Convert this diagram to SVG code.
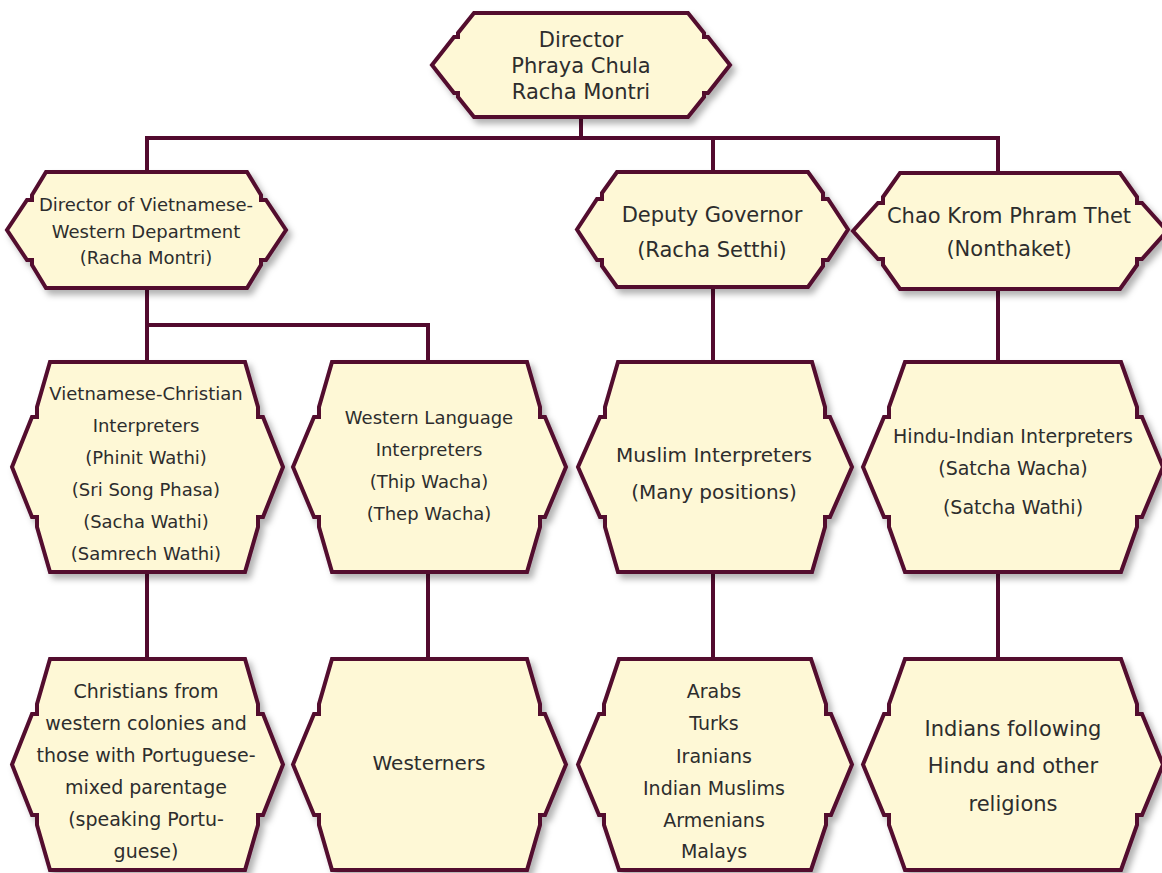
<svg xmlns="http://www.w3.org/2000/svg" width="1162" height="873" viewBox="0 0 1162 873">
<defs>
<filter id="sh" x="-10%" y="-10%" width="130%" height="130%">
<feDropShadow dx="4" dy="5" stdDeviation="3" flood-color="#000" flood-opacity="0.3"/>
</filter>
<style>
.box{fill:#fef8d6;stroke:#520a2e;stroke-width:4;stroke-linejoin:miter;filter:url(#sh)}
.con{fill:none;stroke:#520a2e;stroke-width:4;stroke-linecap:square}
text{font-family:"DejaVu Sans","Liberation Sans",sans-serif;fill:#2d2d2d;text-anchor:middle}
.f21{font-size:21px}.f20{font-size:20px}.f19{font-size:19px}.f18{font-size:18px}
</style>
</defs>
<rect width="1162" height="873" fill="#ffffff"/>
<g id="connectors">
<path class="con" d="M581,117 V138 M147,138 H998 M147,138 V172 M713,138 V172 M998,138 V173"/>
<path class="con" d="M147,288 V325 H428 V362 M147,325 V362"/>
<path class="con" d="M713,287 V362 M998,289 V362"/>
<path class="con" d="M147,572 V659 M428,572 V659 M713,572 V659 M998,572 V659"/>
</g>
<g id="director">
<path class="box" d="M474,13 L688,13 L704,33 L704,37 L708,37 L730,65 L708,93 L704,93 L704,97 L688,117 L474,117 L458,97 L458,93 L454,93 L432,65 L454,37 L458,37 L458,33 Z"/>
<text class="f21"><tspan x="581" y="47">Director</tspan><tspan x="581" y="73">Phraya Chula</tspan><tspan x="581" y="99">Racha Montri</tspan></text>
</g>
<g id="director-viet-western">
<path class="box" d="M46,172 L247,172 L261,195 L261,200 L266,200 L286,230 L266,260 L261,260 L261,265 L247,288 L46,288 L32,265 L32,260 L27,260 L7,230 L27,200 L32,200 L32,195 Z"/>
<text class="f18"><tspan x="146" y="211">Director of Vietnamese-</tspan><tspan x="146" y="238">Western Department</tspan><tspan x="146" y="264">(Racha Montri)</tspan></text>
</g>
<g id="deputy-governor">
<path class="box" d="M617,172 L808,172 L823,193 L823,199 L828,199 L848,229.5 L828,260 L823,260 L823,266 L808,287 L617,287 L602,266 L602,260 L597,260 L577,229.5 L597,199 L602,199 L602,193 Z"/>
<text class="f21"><tspan x="712" y="222">Deputy Governor</tspan><tspan x="712" y="257">(Racha Setthi)</tspan></text>
</g>
<g id="chao-krom">
<path class="box" d="M900,173 L1120,173 L1137,197 L1137,203 L1142,203 L1167,231 L1142,259 L1137,259 L1137,265 L1120,289 L900,289 L883,265 L883,259 L878,259 L853,231 L878,203 L883,203 L883,197 Z"/>
<text class="f21"><tspan x="1009" y="223">Chao Krom Phram Thet</tspan><tspan x="1009" y="256">(Nonthaket)</tspan></text>
</g>
<g id="viet-christian-interpreters">
<path class="box" d="M50,362 L245,362 L258,407 L258,417 L263,417 L283,467 L263,517 L258,517 L258,527 L245,572 L50,572 L37,527 L37,517 L32,517 L12,467 L32,417 L37,417 L37,407 Z"/>
<text class="f18"><tspan x="146" y="400">Vietnamese-Christian</tspan><tspan x="146" y="432">Interpreters</tspan><tspan x="146" y="464">(Phinit Wathi)</tspan><tspan x="146" y="496">(Sri Song Phasa)</tspan><tspan x="146" y="528">(Sacha Wathi)</tspan><tspan x="146" y="560">(Samrech Wathi)</tspan></text>
</g>
<g id="western-language-interpreters">
<path class="box" d="M332,362 L527,362 L540,407 L540,417 L545,417 L566,467 L545,517 L540,517 L540,527 L527,572 L332,572 L319,527 L319,517 L314,517 L293,467 L314,417 L319,417 L319,407 Z"/>
<text class="f18"><tspan x="429" y="424">Western Language</tspan><tspan x="429" y="456">Interpreters</tspan><tspan x="429" y="488">(Thip Wacha)</tspan><tspan x="429" y="520">(Thep Wacha)</tspan></text>
</g>
<g id="muslim-interpreters">
<path class="box" d="M618,362 L812,362 L825,407 L825,417 L830,417 L852,467 L830,517 L825,517 L825,527 L812,572 L618,572 L605,527 L605,517 L600,517 L578,467 L600,417 L605,417 L605,407 Z"/>
<text class="f20"><tspan x="714" y="462">Muslim Interpreters</tspan><tspan x="714" y="499">(Many positions)</tspan></text>
</g>
<g id="hindu-indian-interpreters">
<path class="box" d="M905,362 L1121,362 L1137,407 L1137,417 L1142,417 L1163,467 L1142,517 L1137,517 L1137,527 L1121,572 L905,572 L889,527 L889,517 L884,517 L863,467 L884,417 L889,417 L889,407 Z"/>
<text class="f19"><tspan x="1013" y="443">Hindu-Indian Interpreters</tspan><tspan x="1013" y="475">(Satcha Wacha)</tspan><tspan x="1013" y="514">(Satcha Wathi)</tspan></text>
</g>
<g id="christians">
<path class="box" d="M50,659 L245,659 L258,704 L258,714 L263,714 L283,764.5 L263,815 L258,815 L258,825 L245,870 L50,870 L37,825 L37,815 L32,815 L12,764.5 L32,714 L37,714 L37,704 Z"/>
<text class="f19"><tspan x="146" y="698">Christians from</tspan><tspan x="146" y="730">western colonies and</tspan><tspan x="146" y="762">those with Portuguese-</tspan><tspan x="146" y="794">mixed parentage</tspan><tspan x="146" y="826">(speaking Portu-</tspan><tspan x="146" y="858">guese)</tspan></text>
</g>
<g id="westerners">
<path class="box" d="M332,659 L527,659 L540,704 L540,714 L545,714 L566,764.5 L545,815 L540,815 L540,825 L527,870 L332,870 L319,825 L319,815 L314,815 L293,764.5 L314,714 L319,714 L319,704 Z"/>
<text class="f20"><tspan x="429" y="770">Westerners</tspan></text>
</g>
<g id="muslim-peoples">
<path class="box" d="M619,659 L811,659 L826,704 L826,714 L831,714 L852,764.5 L831,815 L826,815 L826,825 L811,870 L619,870 L604,825 L604,815 L599,815 L578,764.5 L599,714 L604,714 L604,704 Z"/>
<text class="f19"><tspan x="714" y="698">Arabs</tspan><tspan x="714" y="730">Turks</tspan><tspan x="714" y="763">Iranians</tspan><tspan x="714" y="795">Indian Muslims</tspan><tspan x="714" y="827">Armenians</tspan><tspan x="714" y="858">Malays</tspan></text>
</g>
<g id="hindu-indians">
<path class="box" d="M905,659 L1121,659 L1137,704 L1137,714 L1142,714 L1163,764.5 L1142,815 L1137,815 L1137,825 L1121,870 L905,870 L889,825 L889,815 L884,815 L863,764.5 L884,714 L889,714 L889,704 Z"/>
<text class="f21"><tspan x="1013" y="736">Indians following</tspan><tspan x="1013" y="773">Hindu and other</tspan><tspan x="1013" y="811">religions</tspan></text>
</g>
</svg>
